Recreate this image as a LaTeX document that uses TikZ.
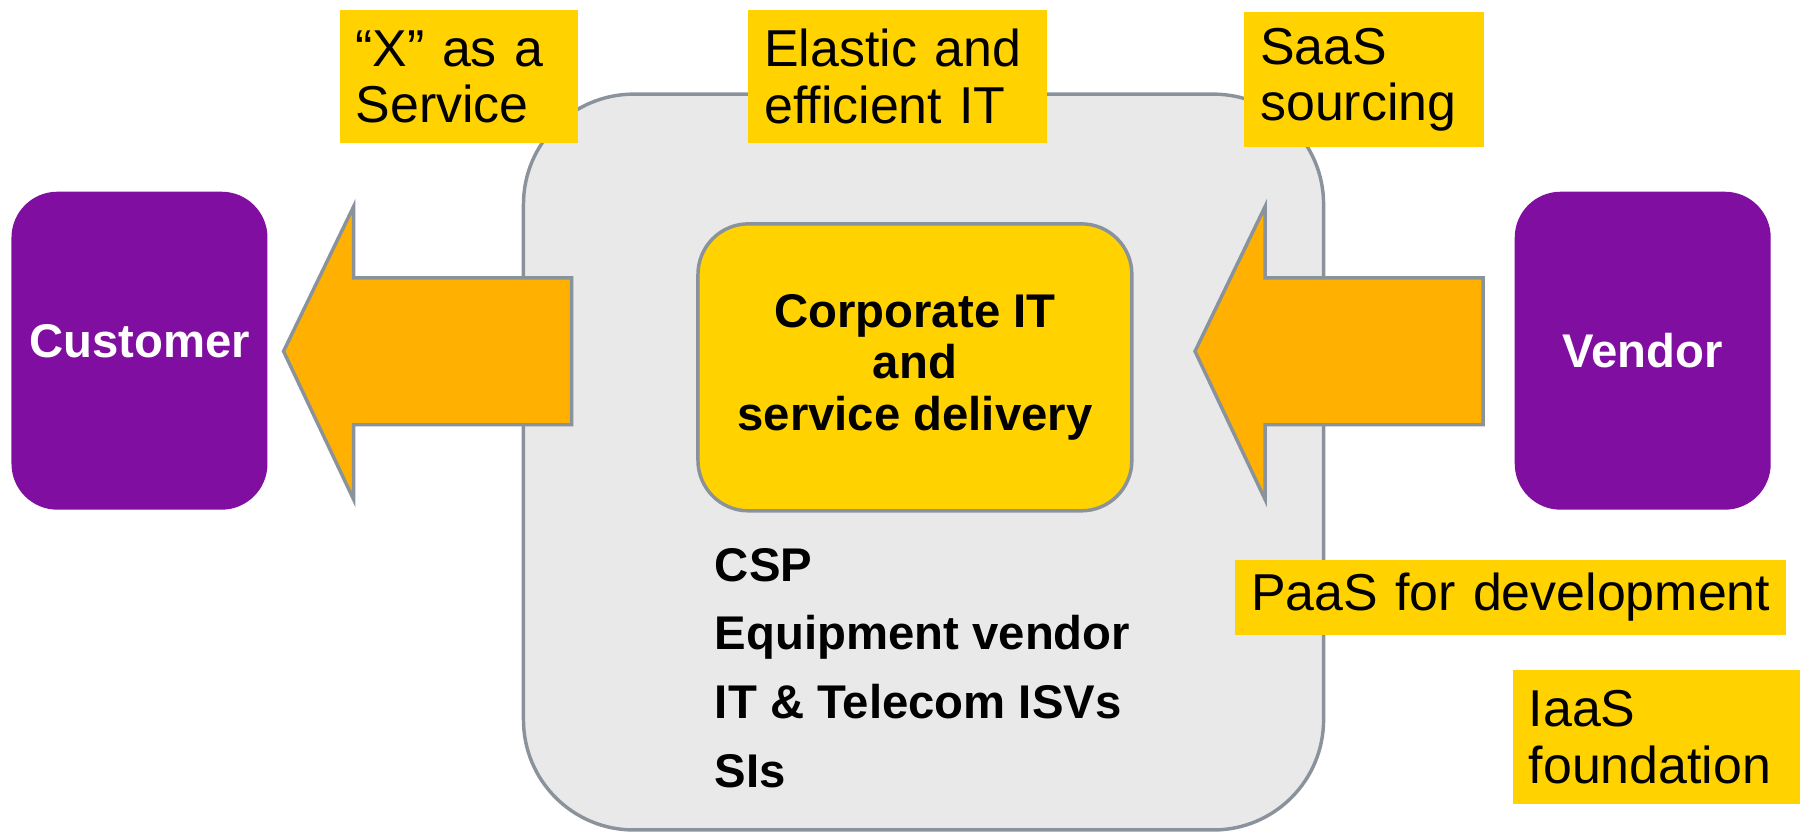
\documentclass[tikz,border=0pt]{standalone}
\usepackage{fontspec}
\setmainfont{Liberation Sans}

\definecolor{partypurple}{RGB}{128,14,160}
\definecolor{tagyellow}{RGB}{255,210,0}
\definecolor{flowamber}{RGB}{255,176,0}
\definecolor{shellgray}{RGB}{233,233,233}
\definecolor{edgegray}{RGB}{138,147,156}

\tikzset{
  party_box/.style={rounded corners=10pt, fill=partypurple, text=white,
    font=\bfseries\fontsize{10.3}{11.3}\selectfont,
    minimum width=55.75pt, minimum height=69.25pt, inner sep=0pt},
  tag_box/.style={fill=tagyellow, anchor=north west, align=left,
    inner xsep=3.5pt, inner ysep=0pt, font=\fontsize{11.3}{12.3}\selectfont},
  flow_arrow/.style={fill=flowamber, draw=edgegray, line width=.75pt, line join=miter},
}

\begin{document}
\begin{tikzpicture}[
  x=0.25pt, y=-0.25pt,
  every node/.style={color=black},
  shell/.style={rounded corners=24pt, fill=shellgray, draw=edgegray, line width=.75pt},
  core/.style={rounded corners=11pt, fill=tagyellow, draw=edgegray, line width=.75pt,
    align=center, font=\bfseries\fontsize{10.3}{11.25}\selectfont},
  ]

  \useasboundingbox (0,0) rectangle (1568,727);

  % provider shell and its core
  \node[shell, minimum width=174.25pt, minimum height=160.25pt] (provider) at (804.5,402.5) {};
  \node[core, minimum width=94.5pt, minimum height=62.5pt] (corporate) at (797,320)
       {Corporate IT\\and\\service delivery};

  \node[anchor=west, align=left, inner sep=0pt,
        font=\bfseries\fontsize{10.3}{15}\selectfont] (roles) at (622,582)
       {CSP\\Equipment vendor\\IT \& Telecom ISVs\\SIs};

  % block arrows, tip x given
  \foreach \Tip in {247, 1041}{
    \draw[flow_arrow] (\Tip,306) -- (\Tip+61,180) -- (\Tip+61,242) -- (\Tip+251,242)
      -- (\Tip+251,370) -- (\Tip+61,370) -- (\Tip+61,435) -- cycle;
  }

  \node[party_box] (customer) at (121.5,305.5) {\raisebox{4.25pt}{Customer}};
  \node[party_box] (vendor) at (1431,305.5) {Vendor};

  % offering tags
  \node[tag_box, text width=45pt, minimum height=29pt] (xaas) at (295,8) {``X'' as a\\Service};
  \node[tag_box, text width=58pt, minimum height=29pt] (elastic) at (651,8) {Elastic and\\efficient IT};
  \node[tag_box, text width=45.25pt, minimum height=29.25pt] (saas) at (1083,10) {SaaS\\sourcing};
  \node[tag_box, text width=113pt, minimum height=16.25pt] (paas) at (1075,487) {\mbox{PaaS for development}};
  \node[tag_box, text width=55.75pt, minimum height=29.25pt] (iaas) at (1317,583) {IaaS\\foundation};

\end{tikzpicture}
\end{document}
